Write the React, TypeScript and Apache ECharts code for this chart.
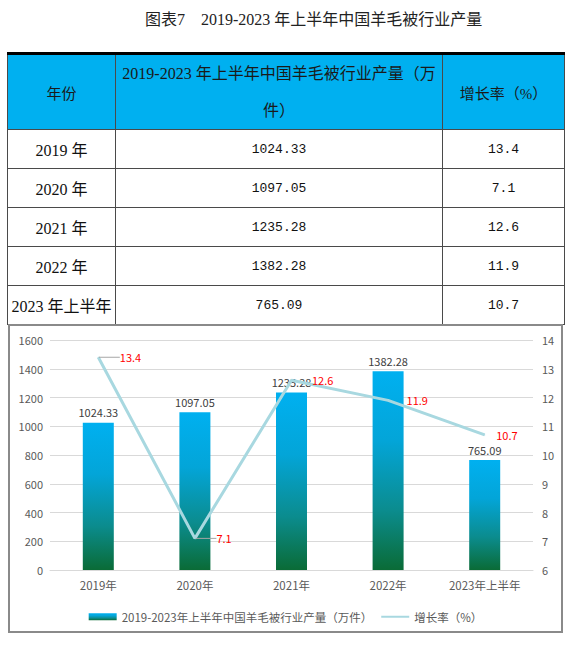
import React, { useEffect, useRef } from "react";
import * as echarts from "echarts";

const categories = ["2019年", "2020年", "2021年", "2022年", "2023年上半年"];
const tableYears = ["2019 年", "2020 年", "2021 年", "2022 年", "2023 年上半年"];
const output = [1024.33, 1097.05, 1235.28, 1382.28, 765.09];
const growth = [13.4, 7.1, 12.6, 11.9, 10.7];
const leftAxis = { min: 0, max: 1600, interval: 200 };
const rightAxis = { min: 6, max: 14, interval: 1 };
const barName = "2019-2023年上半年中国羊毛被行业产量（万件）";
const lineName = "增长率（%）";
const titleText = "图表7\u30002019-2023 年上半年中国羊毛被行业产量";

const serifCJK = "'Liberation Serif', 'Noto Sans CJK SC', serif";
const monoCJK = "'Liberation Mono', 'Noto Sans CJK SC', monospace";

// horizontal shift of each growth label away from its point
const labelShift = [16, 16, 15, 13, 6];

function Chart() {
  const ref = useRef<HTMLDivElement>(null);
  useEffect(() => {
    if (!ref.current) return;
    const chart = echarts.init(ref.current, undefined, { renderer: "svg" });
    const gradient = new echarts.graphic.LinearGradient(0, 0, 0, 1, [
      { offset: 0, color: "#00B0F0" },
      { offset: 0.35, color: "#03A5D8" },
      { offset: 0.7, color: "#0B8C8E" },
      { offset: 1, color: "#0A6B36" },
    ]);
    chart.setOption({
      animation: false,
      textStyle: { fontFamily: "'Noto Sans CJK SC', sans-serif" },
      grid: { left: 40, right: 28, top: 14, bottom: 61 },
      legend: {
        left: "center",
        top: 280,
        itemWidth: 28,
        itemHeight: 7,
        itemGap: 8,
        textStyle: { color: "#595959", fontSize: 11.5 },
        data: [
          { name: barName, icon: "rect" },
          { name: lineName, itemStyle: { opacity: 0 } },
        ],
      },
      xAxis: {
        type: "category",
        data: categories,
        axisLine: { lineStyle: { color: "#D9D9D9" } },
        axisTick: { show: false },
        axisLabel: { color: "#595959", fontSize: 11.5, margin: 9 },
      },
      yAxis: [
        {
          type: "value",
          min: leftAxis.min,
          max: leftAxis.max,
          interval: leftAxis.interval,
          axisLine: { show: false },
          axisTick: { show: false },
          axisLabel: {
            color: "#595959",
            fontSize: 11,
            margin: 7,
            formatter: (v: number) => String(v),
          },
          splitLine: { lineStyle: { color: "#D9D9D9" } },
        },
        {
          type: "value",
          position: "right",
          min: rightAxis.min,
          max: rightAxis.max,
          interval: rightAxis.interval,
          axisLine: { show: false },
          axisTick: { show: false },
          axisLabel: { color: "#595959", fontSize: 11, margin: 9 },
          splitLine: { show: false },
        },
      ],
      series: [
        {
          name: barName,
          type: "bar",
          data: output,
          barWidth: 31,
          itemStyle: { color: gradient },
          label: {
            show: true,
            position: "top",
            color: "#404040",
            fontSize: 11,
            distance: 5,
          },
          z: 2,
        },
        {
          name: lineName,
          type: "line",
          yAxisIndex: 1,
          data: growth.map((v, i) => ({
            value: v,
            labelLine: { show: i < 2 },
          })),
          symbol: "circle",
          symbolSize: 1,
          showSymbol: true,
          lineStyle: { color: "#A8D8E0", width: 3 },
          itemStyle: { color: "#A8D8E0" },
          label: {
            show: true,
            position: "right",
            color: "#FF0000",
            fontSize: 11,
            distance: 5,
          },
          labelLayout: (p: any) => ({ dx: labelShift[p.dataIndex] }),
          labelLine: { show: false, lineStyle: { color: "#A6A6A6", width: 1 } },
          z: 3,
        },
      ],
    });
    return () => chart.dispose();
  }, []);
  return <div ref={ref} style={{ width: 551, height: 305 }} />;
}

export default function App() {
  const cellBorder = "1px solid #4a4a4a";
  const th: React.CSSProperties = {
    background: "#00B0F0",
    border: cellBorder,
    borderTop: "3px solid #000",
    color: "#1a1a1a",
    fontWeight: "normal",
    textAlign: "center",
    verticalAlign: "middle",
    padding: 0,
    fontFamily: serifCJK,
  };
  const td: React.CSSProperties = {
    border: cellBorder,
    textAlign: "center",
    verticalAlign: "middle",
    padding: 0,
    height: 38,
    color: "#111",
  };
  return (
    <div
      style={{
        position: "fixed",
        left: 0,
        top: 0,
        width: 575,
        height: 646,
        background: "#fff",
        overflow: "hidden",
      }}
    >
      <div
        style={{
          position: "absolute",
          left: 145,
          top: 9,
          fontSize: 16,
          lineHeight: "22px",
          fontFamily: serifCJK,
          color: "#222",
          whiteSpace: "nowrap",
        }}
      >
        {titleText}
      </div>
      <table
        style={{
          position: "absolute",
          left: 7,
          top: 52,
          width: 557,
          borderCollapse: "collapse",
          tableLayout: "fixed",
        }}
      >
        <colgroup>
          <col style={{ width: 108 }} />
          <col style={{ width: 327 }} />
          <col style={{ width: 122 }} />
        </colgroup>
        <thead>
          <tr style={{ height: 75 }}>
            <th style={{ ...th, fontSize: 15 }}>年份</th>
            <th style={{ ...th, fontSize: 16, lineHeight: "37px" }}>
              2019-2023 年上半年中国羊毛被行业产量（万
              <br />
              件）
            </th>
            <th style={{ ...th, fontSize: 15 }}>增长率（%）</th>
          </tr>
        </thead>
        <tbody>
          {tableYears.map((y, i) => (
            <tr key={y}>
              <td style={{ ...td, fontFamily: serifCJK, fontSize: 16 }}>{y}</td>
              <td style={{ ...td, fontFamily: monoCJK, fontSize: 13 }}>
                {output[i].toFixed(2)}
              </td>
              <td style={{ ...td, fontFamily: monoCJK, fontSize: 13 }}>
                {growth[i].toFixed(1)}
              </td>
            </tr>
          ))}
        </tbody>
      </table>
      <div
        style={{
          position: "absolute",
          left: 8,
          top: 324,
          width: 555,
          height: 309,
          boxSizing: "border-box",
          border: "2px solid #8a8a8a",
          background: "#fff",
        }}
      >
        <Chart />
      </div>
    </div>
  );
}
